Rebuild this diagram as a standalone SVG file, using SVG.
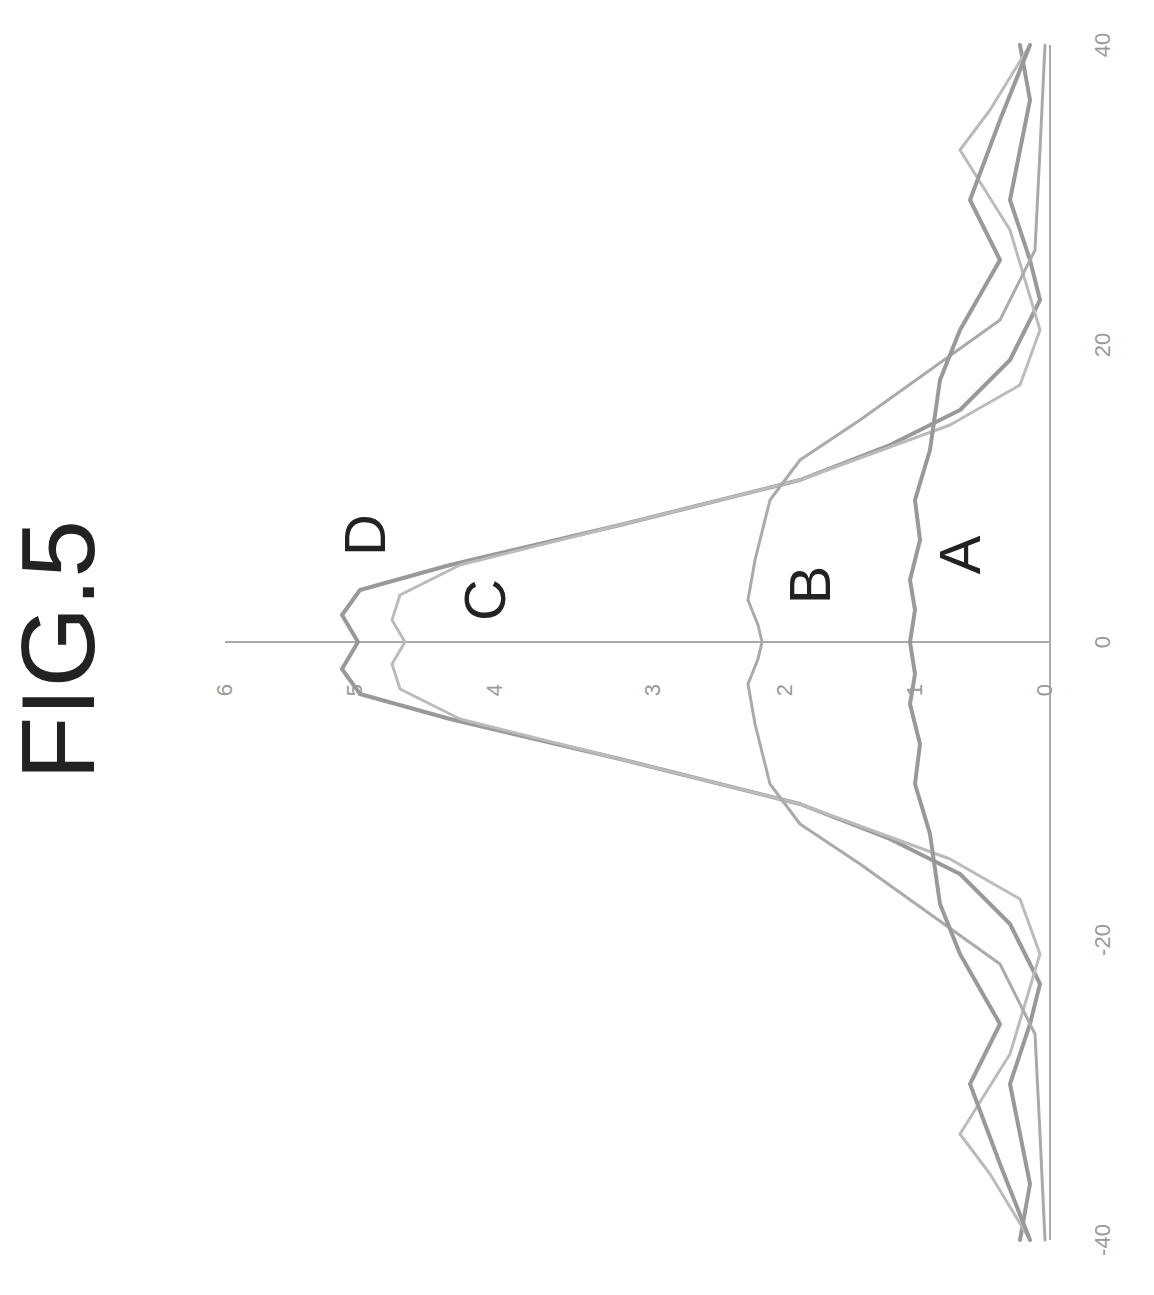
<svg xmlns="http://www.w3.org/2000/svg" width="1154" height="1295" viewBox="0 0 1154 1295">
<style>
.ax{stroke:#aaa;stroke-width:2;fill:none}
.cv{fill:none;stroke-linejoin:round;stroke-linecap:round}
.tk{font-family:"Liberation Sans",sans-serif;font-size:22px;fill:#999}
.lb{font-family:"Liberation Sans",sans-serif;font-size:58px;fill:#222}
</style>
<rect width="1154" height="1295" fill="#fff"/>
<text class="lb" style="font-size:104px" transform="translate(94,650) rotate(-90)" text-anchor="middle">FIG.5</text>
<g id="axes">
<line class="ax" x1="1050" y1="45" x2="1050" y2="1240"/>
<line class="ax" x1="225" y1="642" x2="1050" y2="642"/>
</g>
<g id="ticks">
<text class="tk" transform="translate(1110,45) rotate(-90)" text-anchor="middle">40</text>
<text class="tk" transform="translate(1110,345) rotate(-90)" text-anchor="middle">20</text>
<text class="tk" transform="translate(1110,642) rotate(-90)" text-anchor="middle">0</text>
<text class="tk" transform="translate(1110,940) rotate(-90)" text-anchor="middle">-20</text>
<text class="tk" transform="translate(1110,1240) rotate(-90)" text-anchor="middle">-40</text>
<text class="tk" transform="translate(1052,690) rotate(-90)" text-anchor="middle">0</text>
<text class="tk" transform="translate(922,690) rotate(-90)" text-anchor="middle">1</text>
<text class="tk" transform="translate(792,690) rotate(-90)" text-anchor="middle">2</text>
<text class="tk" transform="translate(660,690) rotate(-90)" text-anchor="middle">3</text>
<text class="tk" transform="translate(502,690) rotate(-90)" text-anchor="middle">4</text>
<text class="tk" transform="translate(362,690) rotate(-90)" text-anchor="middle">5</text>
<text class="tk" transform="translate(232,690) rotate(-90)" text-anchor="middle">6</text>
</g>
<g id="connectors">
<polyline id="curveD" class="cv" stroke="#999" stroke-width="4" points="1020,45 1030,100 1010,200 1030,260 1040,300 1010,360 960,410 890,445 800,480 620,525 450,565 360,590 342,615 358,642 342,669 360,694 450,719 620,759 800,804 890,839 960,874 1010,924 1040,984 1030,1024 1010,1084 1030,1184 1020,1240"/>
<polyline id="curveC" class="cv" stroke="#bbb" stroke-width="3" points="1030,45 990,110 960,150 1010,230 1040,330 1020,385 950,425 800,480 620,525 460,565 400,595 392,620 405,642 392,664 400,689 460,719 620,759 800,804 950,859 1020,899 1040,954 1010,1054 960,1134 990,1174 1030,1240"/>
<polyline id="curveB" class="cv" stroke="#aaa" stroke-width="3" points="1045,45 1040,150 1035,250 1000,320 930,370 860,420 800,460 770,500 755,560 748,600 758,625 762,642 758,659 748,684 755,724 770,784 800,824 860,864 930,914 1000,964 1035,1034 1040,1134 1045,1240"/>
<polyline id="curveA" class="cv" stroke="#999" stroke-width="4" points="1030,45 1000,120 970,200 1000,260 960,330 940,380 930,450 915,500 920,540 910,580 915,610 910,642 915,674 910,704 920,744 915,784 930,834 940,904 960,954 1000,1024 970,1084 1000,1164 1030,1240"/>
</g>
<g id="labels">
<text class="lb" transform="translate(385,535) rotate(-90)" text-anchor="middle">D</text>
<text class="lb" transform="translate(505,600) rotate(-90)" text-anchor="middle">C</text>
<text class="lb" transform="translate(830,585) rotate(-90)" text-anchor="middle">B</text>
<text class="lb" transform="translate(980,555) rotate(-90)" text-anchor="middle">A</text>
</g>
</svg>
